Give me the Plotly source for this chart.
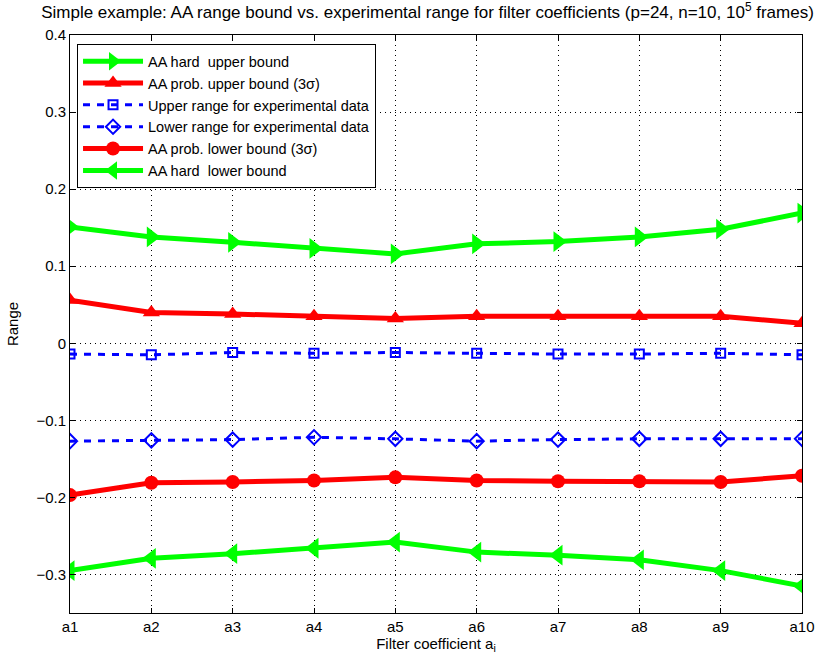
import plotly.graph_objects as go

coeffs = ["a1", "a2", "a3", "a4", "a5", "a6", "a7", "a8", "a9", "a10"]

hard_upper = [0.151, 0.138, 0.131, 0.123, 0.116, 0.129, 0.132, 0.138, 0.148, 0.169]
prob_upper = [0.056, 0.040, 0.038, 0.035, 0.032, 0.035, 0.035, 0.035, 0.035, 0.026]
exp_upper = [-0.014, -0.015, -0.012, -0.013, -0.012, -0.013, -0.014, -0.014, -0.013, -0.015]
exp_lower = [-0.127, -0.126, -0.125, -0.122, -0.124, -0.127, -0.125, -0.124, -0.124, -0.124]
prob_lower = [-0.197, -0.181, -0.180, -0.178, -0.174, -0.178, -0.179, -0.179, -0.180, -0.172]
hard_lower = [-0.295, -0.279, -0.273, -0.266, -0.258, -0.271, -0.275, -0.281, -0.295, -0.315]

y_ticks = [-0.3, -0.2, -0.1, 0, 0.1, 0.2, 0.3, 0.4]
y_tick_text = ["\u22120.3", "\u22120.2", "\u22120.1", "0", "0.1", "0.2", "0.3", "0.4"]

GREEN = "#00ff00"
RED = "#ff0000"
BLUE = "#0000ff"

fig = go.Figure()

def add(name, ys, color, symbol, size, width, dash="solid", open_marker=False):
    marker = dict(symbol=symbol, size=size, color=color)
    if open_marker:
        marker = dict(symbol=symbol + "-open", size=size, color=color,
                      line=dict(color=color, width=2))
    fig.add_trace(go.Scatter(
        x=coeffs, y=ys, name=name, mode="lines+markers",
        line=dict(color=color, width=width, dash=dash),
        marker=marker,
    ))

add("AA hard  upper bound", hard_upper, GREEN, "triangle-right", 18, 5)
add("AA prob. upper bound (3\u03c3)", prob_upper, RED, "triangle-up", 15, 5)
add("Upper range for experimental data", exp_upper, BLUE, "square", 9, 3, dash="7px,7px", open_marker=True)
add("Lower range for experimental data", exp_lower, BLUE, "diamond", 11, 3, dash="7px,7px", open_marker=True)
add("AA prob. lower bound (3\u03c3)", prob_lower, RED, "circle", 14, 5)
add("AA hard  lower bound", hard_lower, GREEN, "triangle-left", 18, 5)

axis_common = dict(
    showline=True, linecolor="black", linewidth=1, mirror="ticks",
    ticks="inside", ticklen=5, tickcolor="black",
    showgrid=True, gridcolor="black", gridwidth=1, griddash="1px,4px",
    zeroline=False, tickfont=dict(size=15, color="black"),
    automargin=False,
)

fig.update_layout(
    width=819, height=655,
    margin=dict(l=70, r=17, t=35, b=42),
    paper_bgcolor="white", plot_bgcolor="white",
    font=dict(family="Liberation Sans, Arial, sans-serif", color="black"),
    title=dict(
        text="Simple example: AA range bound vs. experimental range for filter coefficients (p=24, n=10, 10<sup>5</sup> frames)",
        x=0.522, xanchor="center", y=0.981, yanchor="middle",
        font=dict(size=17, color="black"),
    ),
    xaxis=dict(
        axis_common, type="category", range=[0, 9],
        title=dict(text="Filter coefficient a<sub>i</sub>", font=dict(size=15), standoff=2),
    ),
    yaxis=dict(
        axis_common, range=[-0.35, 0.4], tickvals=y_ticks, ticktext=y_tick_text,
        title=dict(text="Range", font=dict(size=15), standoff=14),
    ),
    legend=dict(
        x=0.0096, y=0.984, xanchor="left", yanchor="top",
        bgcolor="white", bordercolor="black", borderwidth=1,
        font=dict(size=14.5, color="black"), tracegroupgap=0,
        itemwidth=60,
    ),
    showlegend=True,
)

fig.write_html("out.html")
